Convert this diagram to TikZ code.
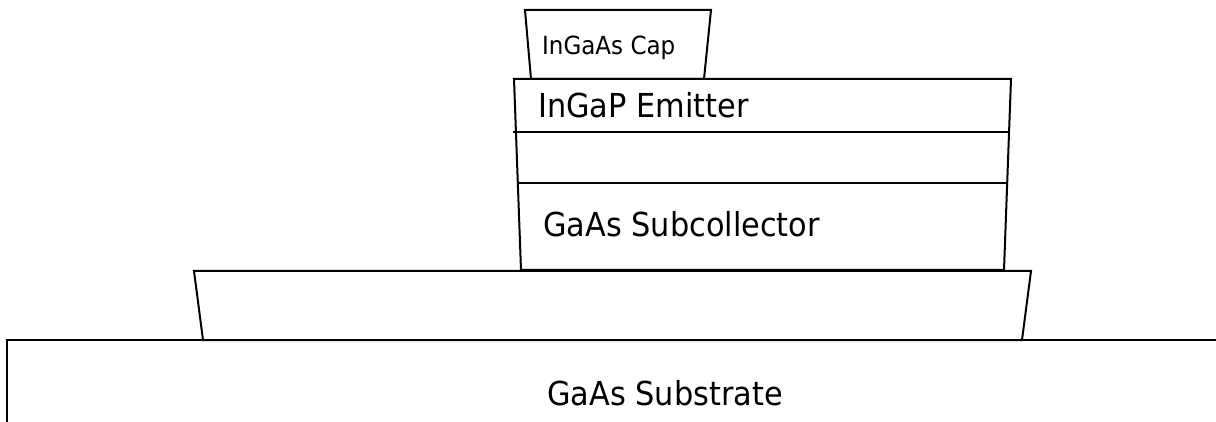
\documentclass[tikz,border=0pt]{standalone}
\usepackage{fontspec}
\setmainfont{DejaVu Sans}[FakeStretch=0.92]
\begin{document}
\begin{tikzpicture}[x=1pt,y=-1pt,
  layer/.style={draw=black,line width=2pt,line join=miter},
  biglabel/.style={anchor=base west,inner sep=0pt,font=\fontsize{33}{36}\selectfont},
  smalllabel/.style={anchor=base west,inner sep=0pt,font=\fontsize{25}{28}\selectfont}]
\useasboundingbox (0,0) rectangle (1216,422);
% substrate
\coordinate (subL) at (7,422);
\coordinate (subTL) at (7,340);
\coordinate (subTR) at (1216,340);
\draw[layer] (subL) -- (subTL) -- (subTR);
% wide mesa
\draw[layer] (194,271) -- (1031,271) -- (1022,340) -- (203,340) -- cycle;
% emitter / collector stack
\draw[layer] (514,79) -- (1011,79) -- (1004,270) -- (521,270) -- cycle;
\draw[layer] (513,132) -- (1010,132);
\draw[layer] (518,183) -- (1007,183);
% cap
\draw[layer] (525,10) -- (711,10) -- (704,79) -- (531,79) -- cycle;
% labels
\node[smalllabel] (cap) at (542,55) {InGaAs Cap};
\node[biglabel] (emit) at (538,118) {InGaP Emitter};
\node[biglabel] (subc) at (543,237) {GaAs Subcollector};
\node[biglabel] (subs) at (547,405) {GaAs Substrate};
\end{tikzpicture}
\end{document}
